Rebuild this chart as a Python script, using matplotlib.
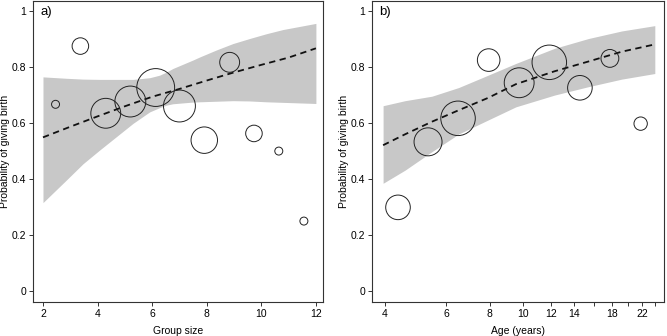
import numpy as np
import matplotlib.pyplot as plt

plt.rcParams['font.family'] = ['Liberation Sans', 'DejaVu Sans']

# panel a: group size
group_x = [2.46, 3.37, 4.30, 5.20, 6.13, 7.00, 7.91, 8.84, 9.73, 10.64, 11.56]
group_p = [0.667, 0.875, 0.635, 0.677, 0.727, 0.661, 0.539, 0.817, 0.563, 0.50, 0.25]
group_n = [1, 4.3, 14, 15, 22.5, 16, 11, 6.2, 4.3, 1, 1]

group_fit_x = [2, 3, 4, 5, 6, 7, 8, 9, 10, 11, 12]
group_fit = [0.549, 0.587, 0.624, 0.660, 0.694, 0.722, 0.752, 0.781, 0.808, 0.834, 0.867]

group_band_x = [2, 2.85, 3.47, 4.08, 5.3, 5.91, 6.27, 6.52, 6.76, 7.49, 7.74, 8.35, 8.96, 9.57, 10.18, 10.79, 12]
group_upper = [0.765, 0.760, 0.757, 0.756, 0.756, 0.762, 0.771, 0.782, 0.795, 0.825, 0.836, 0.861, 0.884, 0.902, 0.919, 0.934, 0.956]
group_lower = [0.316, 0.396, 0.455, 0.504, 0.599, 0.640, 0.655, 0.664, 0.669, 0.675, 0.676, 0.678, 0.680, 0.679, 0.676, 0.674, 0.670]

# panel b: age
age_x = [4.36, 5.32, 6.49, 7.95, 9.73, 11.88, 14.55, 17.75, 21.76]
age_p = [0.299, 0.533, 0.617, 0.825, 0.744, 0.817, 0.726, 0.831, 0.598]
age_n = [9.5, 12.3, 18.7, 8, 14, 18.7, 9.5, 5, 2.8]

age_band_x = [3.95, 4.57, 5.46, 6.52, 7.92, 9.52, 12.3, 15.4, 19.2, 23.9]
age_fit = [0.521, 0.560, 0.605, 0.646, 0.690, 0.739, 0.785, 0.820, 0.855, 0.881]
age_upper = [0.662, 0.680, 0.696, 0.727, 0.771, 0.813, 0.867, 0.902, 0.929, 0.948]
age_lower = [0.385, 0.432, 0.498, 0.561, 0.611, 0.658, 0.700, 0.730, 0.757, 0.777]

age_ticks = [4, 6, 8, 10, 12, 14, 16, 18, 20, 22, 24]
age_ticklabels = ['4', '6', '8', '10', '12', '14', '', '18', '', '22', '']

y_ticks = [0, 0.2, 0.4, 0.6, 0.8, 1]
y_ticklabels = ['0', '0.2', '0.4', '0.6', '0.8', '1']


def style_axis(ax, label, width_px):
    for s in ax.spines.values():
        s.set_color('#333333')
        s.set_linewidth(0.8)
    ax.set_ylim(-0.039, 1.036)
    ax.set_yticks(y_ticks)
    ax.set_yticklabels(y_ticklabels)
    ax.tick_params(direction='out', length=3, width=0.7, color='#333333',
                   labelsize=7.5, pad=2)
    ax.set_ylabel('Probability of giving birth', fontsize=7.5)
    ax.yaxis.set_label_coords(-23 / width_px, 0.5)
    ax.text(0.025, 0.962, label, transform=ax.transAxes, fontsize=9.5,
            va='center', ha='left')


fig = plt.figure(figsize=(6.67, 3.36), dpi=100)

ax1 = fig.add_axes([33 / 667, 34 / 336, 290 / 667, 301 / 336])
ax1.fill_between(group_band_x, group_lower, group_upper, color='#c8c8c8', lw=0)
ax1.plot(group_fit_x, group_fit, color='#111111', lw=1.3, ls=(0, (3.5, 2.5)))
ax1.scatter(group_x, group_p, s=np.array(group_n) * 33, facecolors='none',
            edgecolors='#222222', linewidths=0.7, zorder=3)
ax1.set_xlim(1.634, 12.26)
ax1.set_xticks([2, 4, 6, 8, 10, 12])
ax1.set_xlabel('Group size', fontsize=7.5, labelpad=5)
style_axis(ax1, 'a)', 290)

ax2 = fig.add_axes([372 / 667, 34 / 336, 292 / 667, 301 / 336])
ax2.set_xscale('log')
ax2.fill_between(age_band_x, age_lower, age_upper, color='#c8c8c8', lw=0)
ax2.plot(age_band_x, age_fit, color='#111111', lw=1.3, ls=(0, (3.5, 2.5)))
ax2.scatter(age_x, age_p, s=np.array(age_n) * 33, facecolors='none',
            edgecolors='#222222', linewidths=0.7, zorder=3)
ax2.set_xlim(3.67, 25.4)
ax2.set_xticks(age_ticks)
ax2.set_xticklabels(age_ticklabels)
ax2.xaxis.set_minor_locator(plt.NullLocator())
ax2.set_xlabel('Age (years)', fontsize=7.5, labelpad=5)
style_axis(ax2, 'b)', 292)

fig.savefig('out.png', dpi=100)
